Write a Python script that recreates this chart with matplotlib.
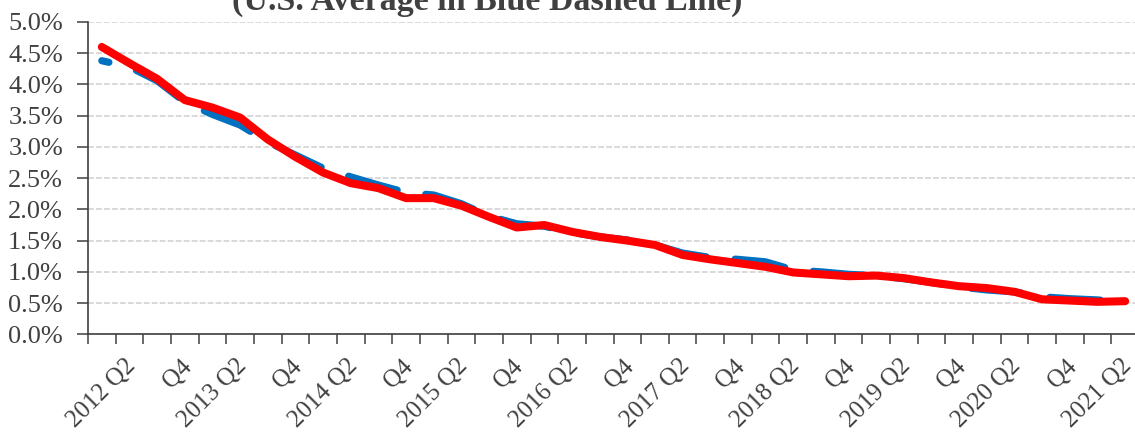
import numpy as np
import matplotlib
matplotlib.use("Agg")
import matplotlib.pyplot as plt
import matplotlib.transforms as mtransforms
from matplotlib.ticker import FuncFormatter

# quarterly values, 2012 Q1 .. 2021 Q2 (percent)
quarters = [f"{y} Q{q}" for y in range(2012, 2022) for q in range(1, 5)][:38]

state_rate = [4.60, 4.34, 4.09, 3.75, 3.63, 3.47, 3.12, 2.84, 2.59, 2.42,
              2.34, 2.18, 2.18, 2.06, 1.88, 1.71, 1.75, 1.64, 1.56, 1.50,
              1.43, 1.27, 1.20, 1.14, 1.08, 0.99, 0.96, 0.93, 0.94, 0.90,
              0.83, 0.77, 0.74, 0.68, 0.56, 0.54, 0.52, 0.53]

us_average = [4.38, 4.28, 4.06, 3.72, 3.52, 3.35, 3.08, 2.87, 2.66, 2.52,
              2.39, 2.27, 2.23, 2.09, 1.89, 1.77, 1.73, 1.63, 1.56, 1.51,
              1.43, 1.30, 1.23, 1.20, 1.16, 1.03, 1.00, 0.96, 0.94, 0.89,
              0.83, 0.76, 0.71, 0.68, 0.60, 0.57, 0.55, 0.52]

# every other quarter gets a label (Q2 with year, Q4 alone)
tick_labels = [q if q.endswith("Q2") else "Q4" for q in quarters[1::2]]

title_text = "(U.S. Average in Blue Dashed Line)"

plt.rcParams["font.family"] = ["Liberation Serif", "DejaVu Serif"]

fig = plt.figure(figsize=(11.35, 4.34), dpi=100)
ax = fig.add_axes([88 / 1135, 1 - 334.3 / 434, (1139 - 88) / 1135, (334.3 - 22) / 434])

x = np.arange(len(quarters))

ax.plot(x, us_average, color="#0070C0", lw=5.2,
        linestyle=(6.0, (7, 4)), dash_capstyle="round",
        solid_capstyle="round", zorder=3)
ax.plot(x, state_rate, color="#FF0000", lw=5.8,
        solid_capstyle="round", solid_joinstyle="round", zorder=4)

ax.set_xlim(-0.5, len(quarters) - 0.5)
ax.set_ylim(0, 5.0)
ax.set_yticks(np.arange(0, 5.01, 0.5))
ax.yaxis.set_major_formatter(FuncFormatter(lambda v, p: f"{v:.1f}%"))

ax.set_xticks(x[1::2])
ax.set_xticklabels(tick_labels, rotation=45, ha="right")
ax.set_xticks(np.arange(-0.5, len(quarters), 1), minor=True)

txt_color = "#404040"
ax.tick_params(axis="x", which="major", length=0, pad=15, labelsize=18,
               labelcolor=txt_color)
ax.tick_params(axis="x", which="minor", length=7, width=1.1, color=txt_color,
               direction="out")
ax.tick_params(axis="y", length=8, width=1.1, color=txt_color, pad=10,
               labelsize=19, labelcolor=txt_color)

# nudge rotated labels to the right, like the original
shift = mtransforms.ScaledTranslation(11 / 100, 0, fig.dpi_scale_trans)
for lbl in ax.get_xticklabels():
    lbl.set_transform(lbl.get_transform() + shift)

ax.yaxis.grid(True, linestyle=(0, (3, 1.1)), color="#D9D9D9", lw=1.4)
ax.set_axisbelow(True)

for s in ["top", "right"]:
    ax.spines[s].set_visible(False)
for s in ["left", "bottom"]:
    ax.spines[s].set_color(txt_color)
    ax.spines[s].set_linewidth(1.2)

fig.text(487 / 1135, 1 - 10 / 434, title_text, ha="center", va="baseline",
         fontsize=24.5, fontweight="bold", color=txt_color)

fig.savefig("out.png", dpi=100)
